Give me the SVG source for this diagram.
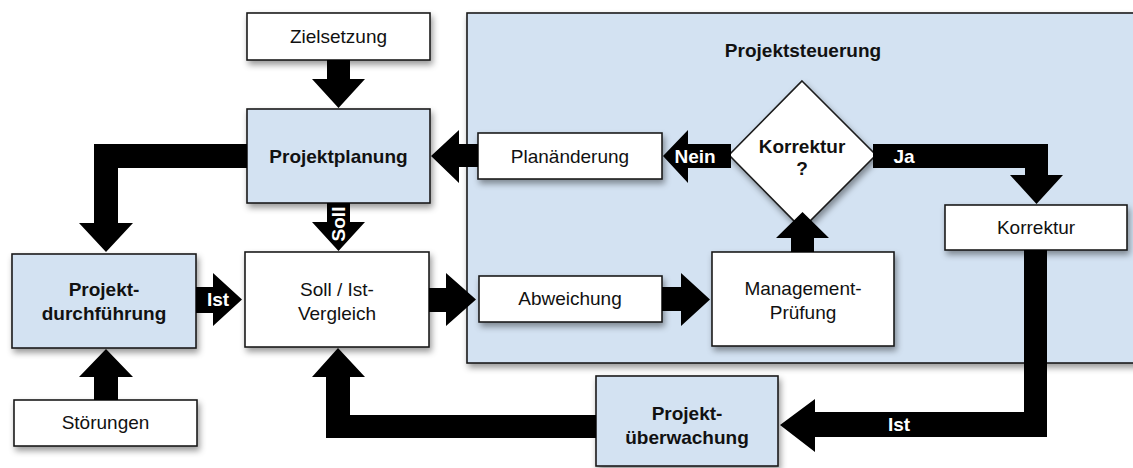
<svg xmlns="http://www.w3.org/2000/svg" width="1133" height="468" viewBox="0 0 1133 468">
<defs>
<filter id="sh" x="-10%" y="-10%" width="130%" height="140%">
<feDropShadow dx="2" dy="4" stdDeviation="3" flood-color="#000" flood-opacity="0.4"/>
</filter>
<style>
.box{fill:#ffffff;stroke:#1c1c1c;stroke-width:1.6;filter:url(#sh)}
.blue{fill:#d3e2f2}
.t{font-family:"Liberation Sans",Arial,Helvetica,sans-serif;font-size:19px;fill:#111;text-anchor:middle}
.b{font-weight:bold}
.w{fill:#ffffff;font-weight:bold}
.arr{fill:#000}
</style>
</defs>
<rect width="1133" height="468" fill="#ffffff"/>

<g id="projektsteuerung">
<rect class="box blue" x="467" y="13" width="680" height="350"/>
<text class="t b" x="803" y="57">Projektsteuerung</text>
</g>

<g id="zielsetzung">
<rect class="box" x="247" y="13" width="183" height="47"/>
<text class="t" x="338.5" y="43">Zielsetzung</text>
</g>

<g id="projektplanung">
<rect class="box blue" x="247" y="109" width="183" height="94"/>
<text class="t b" x="338.5" y="163">Projektplanung</text>
</g>

<g id="sollist">
<rect class="box" x="245" y="252" width="184" height="95"/>
<text class="t" x="337" y="296">Soll / Ist-</text>
<text class="t" x="337" y="320">Vergleich</text>
</g>

<g id="durchfuehrung">
<rect class="box blue" x="12" y="254" width="184" height="94"/>
<text class="t b" x="104" y="296">Projekt-</text>
<text class="t b" x="104" y="320">durchführung</text>
</g>

<g id="stoerungen">
<rect class="box" x="14" y="400" width="183" height="46"/>
<text class="t" x="105.5" y="429">Störungen</text>
</g>

<g id="planaenderung">
<rect class="box" x="478" y="133" width="184" height="46"/>
<text class="t" x="570" y="163">Planänderung</text>
</g>

<g id="entscheidung">
<polygon class="box" points="802,81 876,155 802,229 729,155"/>
<text class="t b" x="802" y="153">Korrektur</text>
<text class="t b" x="802" y="175">?</text>
</g>

<g id="korrektur">
<rect class="box" x="945" y="205" width="182" height="45"/>
<text class="t" x="1036" y="234">Korrektur</text>
</g>

<g id="abweichung">
<rect class="box" x="479" y="276" width="183" height="46"/>
<text class="t" x="570" y="305">Abweichung</text>
</g>

<g id="management">
<rect class="box" x="712" y="252" width="182" height="94"/>
<text class="t" x="803" y="295">Management-</text>
<text class="t" x="803" y="319">Prüfung</text>
</g>

<g id="ueberwachung">
<rect class="box blue" x="596" y="376" width="182" height="90"/>
<text class="t b" x="687" y="420">Projekt-</text>
<text class="t b" x="687" y="444">überwachung</text>
</g>

<g id="connectors">
<polygon class="arr" points="327,60 350,60 350,79 365,79 338.5,108 312,79 327,79"/>
<polygon class="arr" points="247,144 94,144 94,223 79,223 106,252 133,223 118,223 118,168 247,168"/>
<polygon class="arr" points="327,203 350,203 350,222 365,222 338.5,251 312,222 327,222"/>
<polygon class="arr" points="196,287 213,287 213,273 242,299.5 213,326 213,313 196,313"/>
<polygon class="arr" points="429,288 446,288 446,273 476,299.5 446,326 446,312 429,312"/>
<polygon class="arr" points="662,287 681,287 681,273 710,299.5 681,326 681,311 662,311"/>
<polygon class="arr" points="791,252 791,238 776,238 802.5,212 829,238 814,238 814,252"/>
<polygon class="arr" points="731,144 688,144 688,130 663,156 688,183 688,168 731,168"/>
<polygon class="arr" points="478,144 459,144 459,130 431,156 459,183 459,167 478,167"/>
<polygon class="arr" points="873,144 1048,144 1048,175 1063,175 1036.5,204 1010,175 1025,175 1025,168 873,168"/>
<polygon class="arr" points="1024,250 1047,250 1047,437 815,437 815,452 780,425 815,399 815,412 1024,412"/>
<polygon class="arr" points="596,415 596,438 326,438 326,377 312,377 338,348 365,377 350,377 350,415"/>
<polygon class="arr" points="94,400 94,377 79,377 106,349 133,377 118,377 118,400"/>
<text class="t w" transform="translate(345,224) rotate(-90)">Soll</text>
<text class="t w" x="218" y="306">Ist</text>
<text class="t w" x="695" y="163">Nein</text>
<text class="t w" x="904" y="163">Ja</text>
<text class="t w" x="899" y="431">Ist</text>
</g>
</svg>
